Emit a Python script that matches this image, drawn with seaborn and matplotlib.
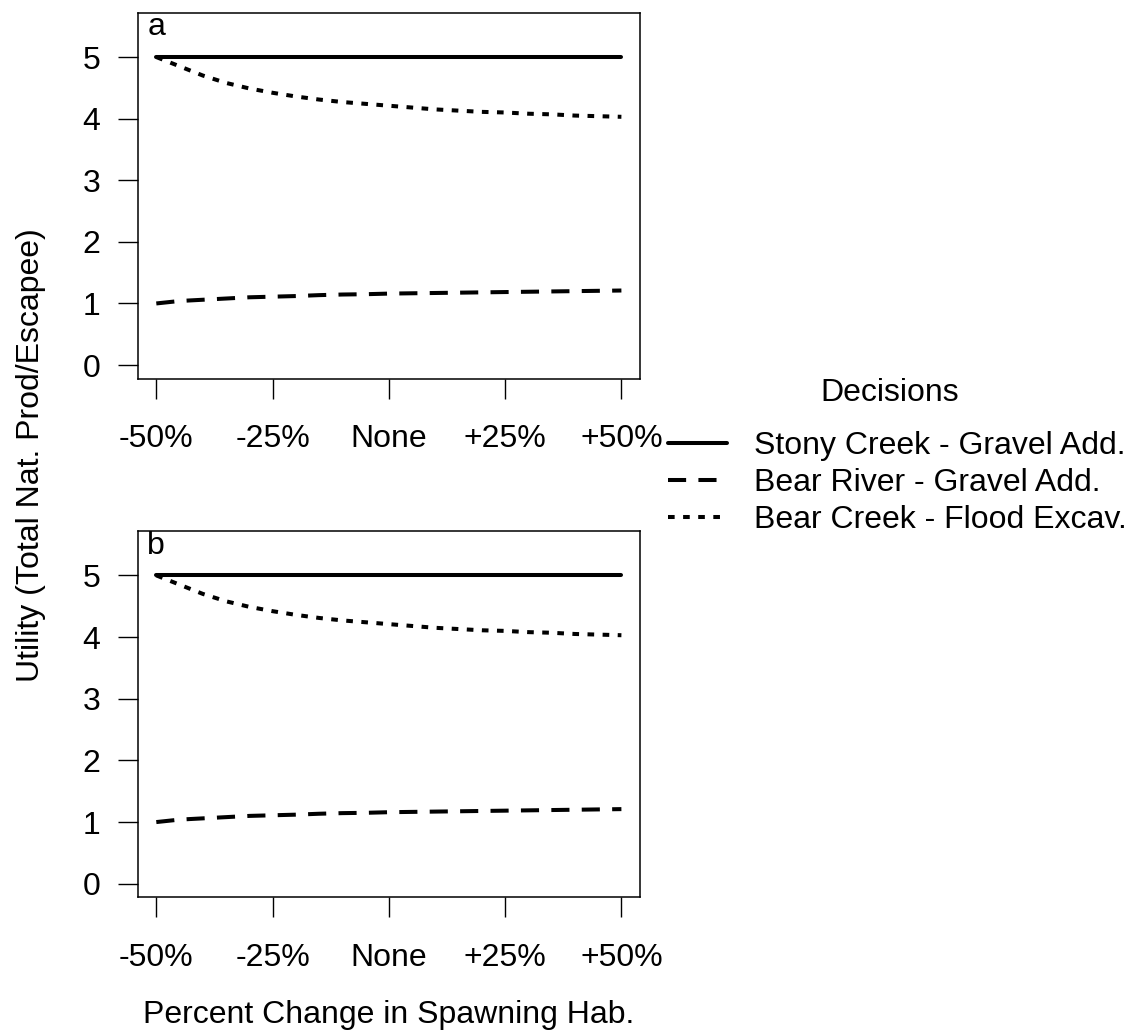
import matplotlib
matplotlib.use("Agg")
import matplotlib.pyplot as plt
from matplotlib.lines import Line2D
import pandas as pd
import seaborn as sns

# Percent change in spawning habitat (x positions of the model runs)
habitat_change = [-50, -45, -40, -35, -30, -25, -20, -15, -10, -5, 0,
                  5, 10, 15, 20, 25, 30, 35, 40, 45, 50]

# Utility of each decision (total natural production per escapee)
stony_creek = [5.00, 5.00, 5.00, 5.00, 5.00, 5.00, 5.00, 5.00, 5.00, 5.00, 5.00,
               5.00, 5.00, 5.00, 5.00, 5.00, 5.00, 5.00, 5.00, 5.00, 5.00]
bear_river = [1.00, 1.04, 1.06, 1.08, 1.10, 1.11, 1.12, 1.135, 1.145, 1.15, 1.16,
              1.165, 1.17, 1.175, 1.18, 1.185, 1.19, 1.195, 1.20, 1.205, 1.21]
bear_creek = [5.00, 4.85, 4.70, 4.58, 4.49, 4.42, 4.36, 4.31, 4.27, 4.24, 4.21,
              4.18, 4.15, 4.13, 4.11, 4.10, 4.08, 4.07, 4.05, 4.04, 4.03]

decisions = ["Stony Creek - Gravel Add.", "Bear River - Gravel Add.",
             "Bear Creek - Flood Excav."]
tick_positions = [-50, -25, 0, 25, 50]
tick_labels = ["-50%", "-25%", "None", "+25%", "+50%"]
y_ticks = [0, 1, 2, 3, 4, 5]
panel_letters = ["a", "b"]

sns.set_theme(style="white")
plt.rcParams["font.family"] = ["Liberation Sans", "DejaVu Sans"]
plt.rcParams["text.color"] = "black"
plt.rcParams["axes.labelcolor"] = "black"
plt.rcParams["xtick.color"] = "black"
plt.rcParams["ytick.color"] = "black"

FS = 23
LW = 2.9
dash_styles = {
    decisions[0]: "",
    decisions[1]: (4.5, 3.05),
    decisions[2]: (1.65, 2.1),
}

frames = []
for name, vals in zip(decisions, [stony_creek, bear_river, bear_creek]):
    frames.append(pd.DataFrame({"change": habitat_change, "utility": vals,
                                "decision": name}))
df = pd.concat(frames, ignore_index=True)

fig = plt.figure(figsize=(11.29, 10.31), dpi=100)
W, H = 1129, 1031
left, right = 137.7, 640.0
panels = [(12.7, 378.6), (531.0, 897.3)]

for (top, bottom), letter in zip(panels, panel_letters):
    ax = fig.add_axes([left / W, 1 - bottom / H, (right - left) / W, (bottom - top) / H])
    sns.lineplot(data=df, x="change", y="utility", style="decision",
                 style_order=decisions, dashes=dash_styles, color="black",
                 linewidth=LW, estimator=None, sort=False, legend=False, ax=ax)
    for ln in ax.get_lines():
        ln.set_dash_capstyle("butt")
        ln.set_solid_capstyle("round")
    ax.set_xlim(-54, 54)
    ax.set_ylim(-0.22, 5.72)
    ax.set_xticks(tick_positions)
    ax.set_xticklabels(tick_labels)
    ax.set_yticks(y_ticks)
    ax.set_yticklabels([str(v) for v in y_ticks])
    ax.set_xlabel("")
    ax.set_ylabel("")
    ax.tick_params(axis="both", direction="out", length=14.1, width=1.0,
                   color="black", labelsize=FS, labelcolor="black",
                   bottom=True, left=True)
    ax.tick_params(axis="y", pad=13.0)
    ax.tick_params(axis="x", pad=18.5)
    for sp in ax.spines.values():
        sp.set_visible(True)
        sp.set_color("black")
        sp.set_linewidth(1.1)
    ax.text(-50, 5.35, letter, ha="center", va="baseline", fontsize=FS,
            color="black")

fig.text(31 / W, 1 - 455 / H, "Utility (Total Nat. Prod/Escapee)", rotation=90,
         ha="center", va="center", fontsize=FS)
fig.text((left + right) / 2 / W, 1 - 1015 / H, "Percent Change in Spawning Hab.",
         ha="center", va="center", fontsize=FS)

handles = [Line2D([], [], color="black", linewidth=LW) for _ in decisions]
handles[1].set_dashes(dash_styles[decisions[1]])
handles[2].set_dashes(dash_styles[decisions[2]])
for h in handles[1:]:
    h.set_dash_capstyle("butt")
leg = fig.legend(handles, decisions, loc="upper left",
                 bbox_to_anchor=(668 / W, 1 - 431 / H), frameon=False,
                 borderpad=0, borderaxespad=0, handlelength=1.85,
                 handletextpad=0.85, labelspacing=0.22, fontsize=FS)
for t in leg.get_texts():
    t.set_color("black")
fig.text(890 / W, 1 - 393 / H, "Decisions", ha="center", va="center", fontsize=FS)

fig.savefig("out.png", dpi=100, facecolor="white")
